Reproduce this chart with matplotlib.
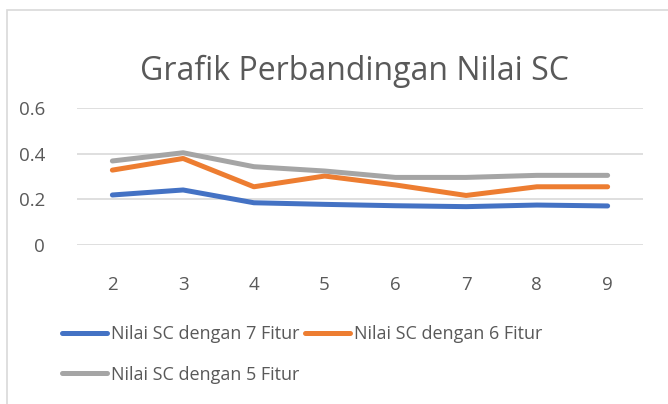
import matplotlib.pyplot as plt
from matplotlib.patches import Rectangle

# data
jumlah_cluster = [2, 3, 4, 5, 6, 7, 8, 9]
sc_7_fitur = [0.219, 0.241, 0.185, 0.178, 0.172, 0.168, 0.175, 0.171]
sc_6_fitur = [0.328, 0.379, 0.255, 0.302, 0.263, 0.217, 0.255, 0.255]
sc_5_fitur = [0.368, 0.404, 0.343, 0.324, 0.296, 0.296, 0.305, 0.305]
y_ticks = [0, 0.2, 0.4, 0.6]
y_labels = ["0", "0.2", "0.4", "0.6"]

text_col = "#595959"
grid_col = "#D9D9D9"
font = "Open Sans"

fig = plt.figure(figsize=(6.68, 4.04), dpi=100)
W, H = 668, 404

# chart area border (cut off at right and bottom)
fig.patches.append(Rectangle((7 / W, -0.1), 1.2, 1 - 10 / H + 0.1,
                             transform=fig.transFigure, fill=False,
                             edgecolor=grid_col, linewidth=1.2))

ax = fig.add_axes([77 / W, 1 - 245 / H, (643 - 77) / W, (245 - 108) / H])

pos = list(range(len(jumlah_cluster)))
l7, = ax.plot(pos, sc_7_fitur, color="#4472C4", lw=3.6, solid_capstyle="round",
              solid_joinstyle="round", label="Nilai SC dengan 7 Fitur")
l6, = ax.plot(pos, sc_6_fitur, color="#ED7D31", lw=3.6, solid_capstyle="round",
              solid_joinstyle="round", label="Nilai SC dengan 6 Fitur")
l5, = ax.plot(pos, sc_5_fitur, color="#A5A5A5", lw=3.6, solid_capstyle="round",
              solid_joinstyle="round", label="Nilai SC dengan 5 Fitur")

ax.set_xlim(-0.5, len(pos) - 0.5)
ax.set_ylim(0, 0.6)
ax.set_xticks(pos)
ax.set_xticklabels([str(c) for c in jumlah_cluster])
ax.set_yticks(y_ticks)
ax.set_yticklabels(y_labels)
ax.tick_params(length=0, labelsize=13.5, labelcolor=text_col, pad=0)
ax.tick_params(axis="y", pad=23)
ax.tick_params(axis="x", pad=22)
for lab in ax.get_xticklabels() + ax.get_yticklabels():
    lab.set_fontfamily(font)

for s in ax.spines.values():
    s.set_visible(False)
ax.grid(axis="y", color=grid_col, lw=1.2)
ax.set_axisbelow(True)

fig.text(354 / W, 1 - 80 / H, "Grafik Perbandingan Nilai SC", ha="center",
         va="baseline", fontsize=23, color=text_col, fontfamily=font)

leg = fig.legend([l7, l5, l6], [l7.get_label(), l5.get_label(), l6.get_label()],
                 ncol=2, loc="upper left", bbox_to_anchor=(55 / W, 1 - 318 / H),
                 frameon=False, handlelength=2.5, handletextpad=0.22,
                 columnspacing=0.28, labelspacing=1.25, borderaxespad=0,
                 prop={"family": font, "size": 13})
for t in leg.get_texts():
    t.set_color(text_col)

fig.savefig("out.png", dpi=100)
